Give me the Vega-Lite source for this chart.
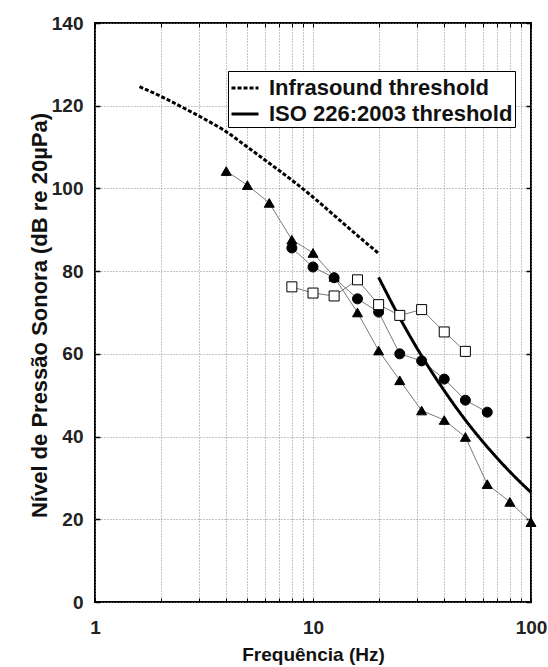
{
  "$schema": "https://vega.github.io/schema/vega-lite/v6.json",
  "autosize": "none",
  "width": 436,
  "height": 579,
  "padding": {"left": 95, "top": 23, "right": 17, "bottom": 65},
  "background": "white",
  "config": {
    "font": "Liberation Sans",
    "view": {"stroke": "black", "strokeWidth": 2},
    "axis": {"labelFont": "Liberation Sans", "titleFont": "Liberation Sans"}
  },
  "datasets": {
    "thr": [
      {"f": 1.6, "spl": 124.6, "curve": "Infrasound threshold"},
      {"f": 2, "spl": 122.3, "curve": "Infrasound threshold"},
      {"f": 2.5, "spl": 119.7, "curve": "Infrasound threshold"},
      {"f": 3.15, "spl": 116.9, "curve": "Infrasound threshold"},
      {"f": 4, "spl": 113.7, "curve": "Infrasound threshold"},
      {"f": 5, "spl": 110.0, "curve": "Infrasound threshold"},
      {"f": 6.3, "spl": 106.1, "curve": "Infrasound threshold"},
      {"f": 8, "spl": 102.0, "curve": "Infrasound threshold"},
      {"f": 10, "spl": 97.9, "curve": "Infrasound threshold"},
      {"f": 12.5, "spl": 93.5, "curve": "Infrasound threshold"},
      {"f": 16, "spl": 88.6, "curve": "Infrasound threshold"},
      {"f": 20, "spl": 84.3, "curve": "Infrasound threshold"},
      {"f": 20, "spl": 78.5, "curve": "ISO 226:2003 threshold"},
      {"f": 25, "spl": 68.7, "curve": "ISO 226:2003 threshold"},
      {"f": 31.5, "spl": 59.5, "curve": "ISO 226:2003 threshold"},
      {"f": 40, "spl": 51.1, "curve": "ISO 226:2003 threshold"},
      {"f": 50, "spl": 44.0, "curve": "ISO 226:2003 threshold"},
      {"f": 63, "spl": 37.5, "curve": "ISO 226:2003 threshold"},
      {"f": 80, "spl": 31.5, "curve": "ISO 226:2003 threshold"},
      {"f": 100, "spl": 26.5, "curve": "ISO 226:2003 threshold"}
    ],
    "meas": [
      {"f": 4, "spl": 104.2, "s": "tri"},
      {"f": 5, "spl": 100.8, "s": "tri"},
      {"f": 6.3, "spl": 96.5, "s": "tri"},
      {"f": 8, "spl": 87.6, "s": "tri"},
      {"f": 10, "spl": 84.4, "s": "tri"},
      {"f": 12.5, "spl": 78.6, "s": "tri"},
      {"f": 16, "spl": 70.0, "s": "tri"},
      {"f": 20, "spl": 60.8, "s": "tri"},
      {"f": 25, "spl": 53.6, "s": "tri"},
      {"f": 31.5, "spl": 46.3, "s": "tri"},
      {"f": 40, "spl": 44.0, "s": "tri"},
      {"f": 50, "spl": 39.9, "s": "tri"},
      {"f": 63, "spl": 28.5, "s": "tri"},
      {"f": 80, "spl": 24.2, "s": "tri"},
      {"f": 100, "spl": 19.3, "s": "tri"},
      {"f": 8, "spl": 85.6, "s": "circ"},
      {"f": 10, "spl": 81.0, "s": "circ"},
      {"f": 12.5, "spl": 78.4, "s": "circ"},
      {"f": 16, "spl": 73.3, "s": "circ"},
      {"f": 20, "spl": 70.1, "s": "circ"},
      {"f": 25, "spl": 60.0, "s": "circ"},
      {"f": 31.5, "spl": 58.3, "s": "circ"},
      {"f": 40, "spl": 53.9, "s": "circ"},
      {"f": 50, "spl": 48.8, "s": "circ"},
      {"f": 63, "spl": 45.9, "s": "circ"},
      {"f": 8, "spl": 76.2, "s": "sq"},
      {"f": 10, "spl": 74.7, "s": "sq"},
      {"f": 12.5, "spl": 74.0, "s": "sq"},
      {"f": 16, "spl": 77.9, "s": "sq"},
      {"f": 20, "spl": 71.9, "s": "sq"},
      {"f": 25, "spl": 69.3, "s": "sq"},
      {"f": 31.5, "spl": 70.7, "s": "sq"},
      {"f": 40, "spl": 65.3, "s": "sq"},
      {"f": 50, "spl": 60.6, "s": "sq"}
    ]
  },
  "resolve": {"axis": {"x": "independent", "y": "independent"}},
  "layer": [
    {
      "data": {"name": "meas"},
      "mark": {"type": "line", "color": "#7a7a7a", "strokeWidth": 1},
      "encoding": {
        "x": {"field": "f", "type": "quantitative",
          "scale": {"type": "log", "domain": [1, 100], "nice": false},
          "axis": {"orient": "top", "labels": false, "title": null, "grid": false, "domain": false,
            "values": [1,2,3,4,5,6,7,8,9,10,20,30,40,50,60,70,80,90,100],
            "tickSize": -4, "tickColor": "black", "tickWidth": 1}},
        "y": {"field": "spl", "type": "quantitative",
          "scale": {"domain": [0, 140], "nice": false},
          "axis": {"orient": "right", "labels": false, "title": null, "grid": false, "domain": false,
            "values": [0,20,40,60,80,100,120,140],
            "tickSize": -5, "tickColor": "black", "tickWidth": 1.5}},
        "detail": {"field": "s"}
      }
    },
    {
      "data": {"name": "thr"},
      "mark": {"type": "line", "color": "black", "strokeWidth": 3, "interpolate": "monotone"},
      "encoding": {
        "x": {"field": "f", "type": "quantitative",
          "scale": {"type": "log", "domain": [1, 100], "nice": false},
          "axis": {"orient": "bottom", "title": "Frequência (Hz)",
            "values": [1,2,3,4,5,6,7,8,9,10,20,30,40,50,60,70,80,90,100],
            "format": "d",
            "labelExpr": "(datum.value == 1 || datum.value == 10 || datum.value == 100) ? datum.label : ''",
            "labelFontSize": 19, "labelFontWeight": "bold", "labelColor": "#222",
            "labelPadding": 20, "labelFlush": false,
            "tickSize": -4, "tickColor": "black", "tickWidth": 1,
            "domain": false,
            "grid": true, "gridDash": [1, 2], "gridColor": "#8a8a8a", "gridWidth": 1,
            "titleFontSize": 19, "titleFontWeight": "bold", "titleColor": "#111",
            "titleX": 218, "titleY": 58, "titleBaseline": "alphabetic"}},
        "y": {"field": "spl", "type": "quantitative",
          "scale": {"domain": [0, 140], "nice": false},
          "axis": {"orient": "left", "title": "Nível de Pressão Sonora (dB re 20µPa)",
            "values": [0,20,40,60,80,100,120,140],
            "labelFontSize": 19, "labelFontWeight": "bold", "labelColor": "#222",
            "labelPadding": 17, "labelFlush": false,
            "tickSize": -5, "tickColor": "black", "tickWidth": 1.5,
            "domain": false,
            "grid": true, "gridDash": [1, 2], "gridColor": "#8a8a8a", "gridWidth": 1,
            "titleFontSize": 22, "titleFontWeight": "bold", "titleColor": "#111",
            "titleX": -44, "titleY": 292, "titleAngle": -90, "titleAlign": "center"}},
        "strokeDash": {"field": "curve", "type": "nominal",
          "scale": {"domain": ["Infrasound threshold", "ISO 226:2003 threshold"], "range": [[4, 2], [1, 0]]},
          "legend": {"orient": "none", "legendX": 133, "legendY": 48, "title": null,
            "strokeColor": "black", "fillColor": "white", "padding": 2,
            "labelFontSize": 22, "labelFontWeight": "bold", "labelColor": "#111", "labelFont": "Liberation Sans",
            "labelLimit": 400,
            "symbolType": "stroke", "symbolStrokeWidth": 3, "symbolSize": 729, "symbolStrokeColor": "black",
            "rowPadding": 0, "labelOffset": 9}}
      }
    },
    {
      "data": {"name": "meas"},
      "mark": {"type": "point", "filled": true, "stroke": "black", "strokeWidth": 1, "opacity": 1, "size": 100},
      "encoding": {
        "x": {"field": "f", "type": "quantitative", "scale": {"type": "log", "domain": [1, 100], "nice": false}, "axis": null},
        "y": {"field": "spl", "type": "quantitative", "scale": {"domain": [0, 140], "nice": false}, "axis": null},
        "shape": {"field": "s", "type": "nominal",
          "scale": {"domain": ["tri", "circ", "sq"], "range": ["triangle-up", "circle", "square"]}, "legend": null},
        "fill": {"field": "s", "type": "nominal",
          "scale": {"domain": ["tri", "circ", "sq"], "range": ["black", "black", "white"]}, "legend": null}
      }
    }
  ]
}
